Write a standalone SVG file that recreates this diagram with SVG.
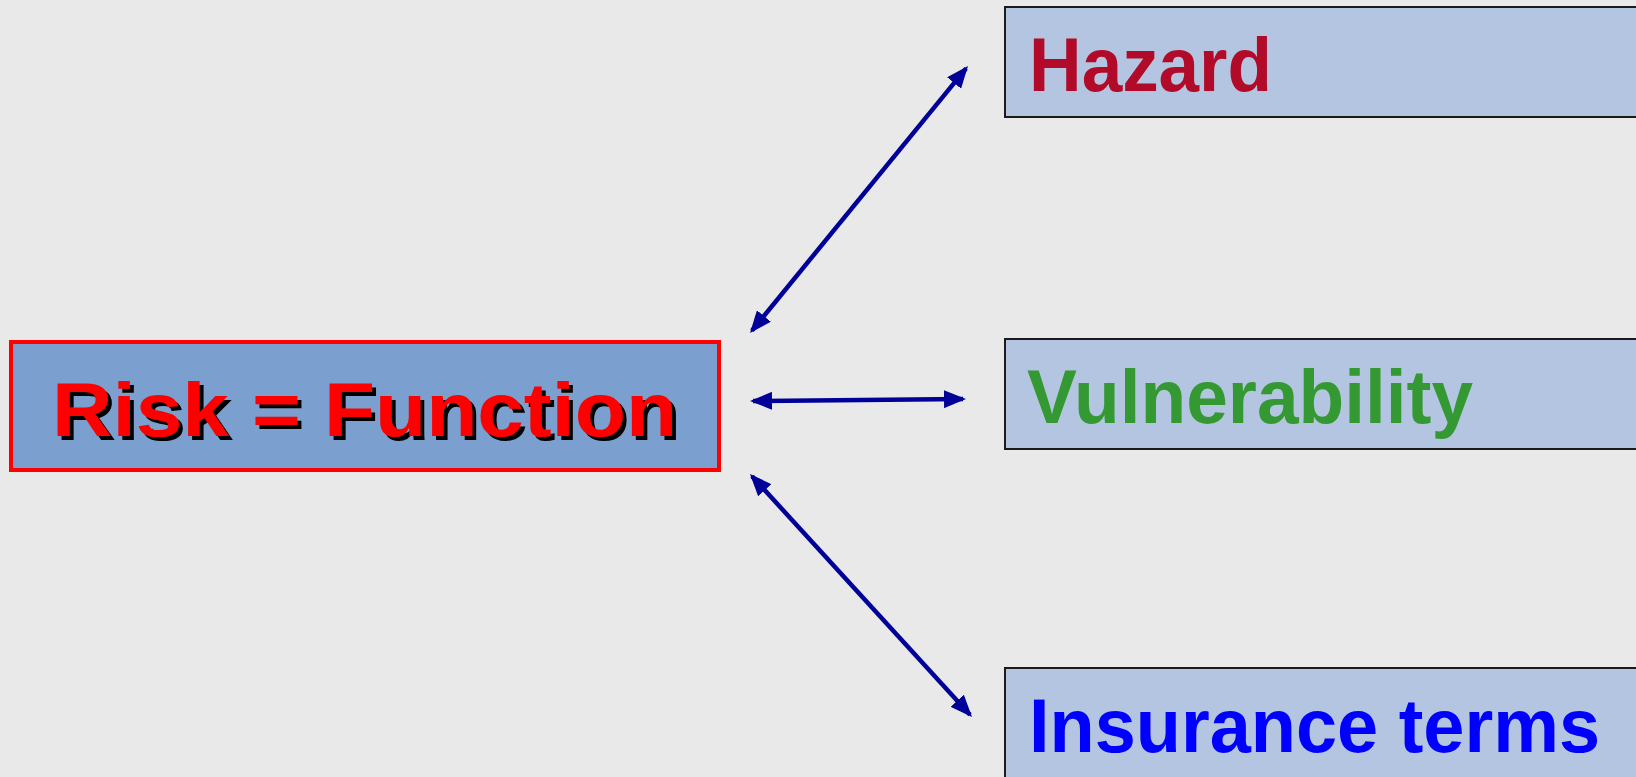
<svg xmlns="http://www.w3.org/2000/svg" width="1636" height="777" viewBox="0 0 1636 777">
<defs>
<style>
.box{fill:#B3C5E0;stroke:#1a1a1a;stroke-width:2}
.lbl{font-family:"Liberation Sans",Arial,sans-serif;font-weight:bold;font-size:76px}
.conn{stroke:#000099;stroke-width:4.5;fill:none}
</style>
<filter id="shadow" x="-5%" y="-10%" width="115%" height="130%">
<feDropShadow dx="4" dy="4" stdDeviation="0" flood-color="#000000" flood-opacity="1"/>
</filter>
<marker id="ah" viewBox="0 0 22 18" refX="19" refY="9" markerWidth="22" markerHeight="18" markerUnits="userSpaceOnUse" orient="auto-start-reverse">
<path d="M0,0 L22,9 L0,18 z" fill="#000099"/>
</marker>
</defs>
<rect width="1636" height="777" fill="#E9E9E9"/>
<g id="risk">
<rect x="11" y="342" width="708" height="128" fill="#7BA0CF" stroke="#FF0000" stroke-width="4"/>
<text class="lbl" x="52" y="436" font-size="86" textLength="625" lengthAdjust="spacingAndGlyphs" fill="#FF0000" filter="url(#shadow)">Risk = Function</text>
</g>
<g id="hazard">
<rect class="box" x="1005" y="7" width="640" height="110"/>
<text class="lbl" x="1029" y="91" textLength="243" lengthAdjust="spacingAndGlyphs" fill="#B20B2A">Hazard</text>
</g>
<g id="vulnerability">
<rect class="box" x="1005" y="339" width="640" height="110"/>
<text class="lbl" x="1027" y="423" textLength="446" lengthAdjust="spacingAndGlyphs" fill="#359933">Vulnerability</text>
</g>
<g id="insurance">
<rect class="box" x="1005" y="668" width="640" height="120"/>
<text class="lbl" x="1029" y="752" textLength="571" lengthAdjust="spacingAndGlyphs" fill="#0000FF">Insurance terms</text>
</g>
<g id="connectors">
<line class="conn" x1="751.9" y1="330.7" x2="966.1" y2="68.3" marker-start="url(#ah)" marker-end="url(#ah)"/>
<line class="conn" x1="753" y1="401" x2="963" y2="399" marker-start="url(#ah)" marker-end="url(#ah)"/>
<line class="conn" x1="752" y1="476.2" x2="970" y2="714.8" marker-start="url(#ah)" marker-end="url(#ah)"/>
</g>
</svg>
